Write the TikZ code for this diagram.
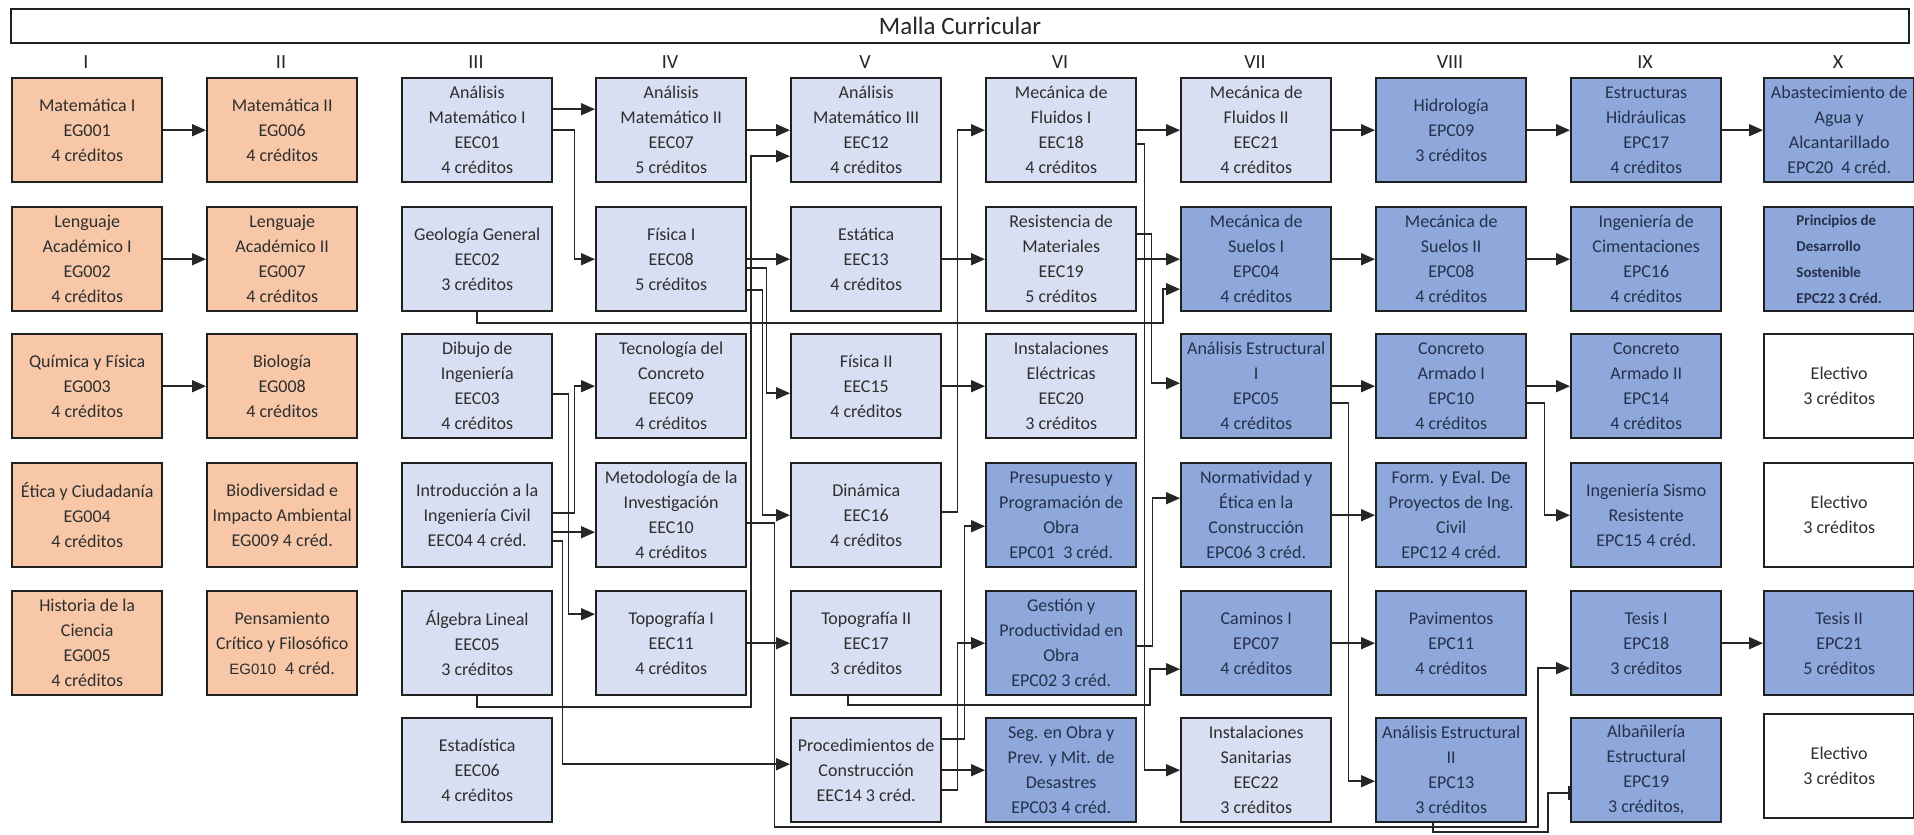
\documentclass[tikz,border=0pt]{standalone}
\usepackage{fontspec}
\setmainfont{Carlito}
\newfontfamily\arialf{Liberation Sans}
\usetikzlibrary{arrows.meta,calc}
\definecolor{orng}{HTML}{F7C7A8}
\definecolor{lblue}{HTML}{D9DFF2}
\definecolor{dblue}{HTML}{8EA8DB}
\definecolor{bordc}{HTML}{202020}
\definecolor{linec}{HTML}{262626}
\definecolor{txtc}{HTML}{2E2E2E}
\definecolor{txtb}{HTML}{25304A}
\begin{document}
\begin{tikzpicture}[x=1pt,y=-1pt,
  box/.style={draw=bordc, line width=2.4pt, minimum width=150pt, minimum height=104pt,
    anchor=north west, align=center, inner sep=0pt, font=\fontsize{18}{25}\selectfont, text=txtc},
  og/.style={box, fill=orng},
  lb/.style={box, fill=lblue},
  db/.style={box, fill=dblue, text=txtb},
  wb/.style={box, fill=white},
  roman/.style={font=\fontsize{20}{24}\selectfont, text=black!85},
  arr/.style={draw=linec, line width=1.7pt, -{Triangle[length=14pt,width=12pt]}},
  bararr/.style={draw=linec, line width=1.7pt, -{Bar[width=14pt]}},
]
\useasboundingbox (0,0) rectangle (1914,835);
\fill[white] (0,0) rectangle (1914,835);

% title
\node[draw=bordc, line width=2pt, minimum width=1898pt, minimum height=34pt, inner sep=0pt,
  font=\fontsize{25}{28}\selectfont, text=black!85] (title) at (960,26) {Malla Curricular};

% roman numerals
\node[roman] (n1) at (86,62) {I};
\node[roman] (n2) at (281,62) {II};
\node[roman] (n3) at (476,62) {III};
\node[roman] (n4) at (670,62) {IV};
\node[roman] (n5) at (865,62) {V};
\node[roman] (n6) at (1060,62) {VI};
\node[roman] (n7) at (1255,62) {VII};
\node[roman] (n8) at (1450,62) {VIII};
\node[roman] (n9) at (1645,62) {IX};
\node[roman] (n10) at (1838,62) {X};

% column I
\node[og] (g1) at (11,77) {Matemática I\\EG001\\4 créditos};
\node[og] (g2) at (11,206) {Lenguaje\\Académico I\\EG002\\4 créditos};
\node[og] (g3) at (11,333) {Química y Física\\EG003\\4 créditos};
\node[og] (g4) at (11,462) {Ética y Ciudadanía\\EG004\\4 créditos};
\node[og] (g5) at (11,590) {Historia de la\\Ciencia\\EG005\\4 créditos};
% column II
\node[og] (g6) at (206,77) {Matemática II\\EG006\\4 créditos};
\node[og] (g7) at (206,206) {Lenguaje\\Académico II\\EG007\\4 créditos};
\node[og] (g8) at (206,333) {Biología\\EG008\\4 créditos};
\node[og] (g9) at (206,462) {Biodiversidad e\\Impacto Ambiental\\EG009 4 créd.};
\node[og] (g10) at (206,590) {Pensamiento\\Crítico y Filosófico\\{\arialf\fontsize{15}{25}\selectfont EG010}\hspace{9pt}4 créd.};
% column III
\node[lb] (e01) at (401,77) {Análisis\\Matemático I\\EEC01\\4 créditos};
\node[lb] (e02) at (401,206) {Geología General\\EEC02\\3 créditos};
\node[lb] (e03) at (401,333) {Dibujo de\\Ingeniería\\EEC03\\4 créditos};
\node[lb] (e04) at (401,462) {Introducción a la\\Ingeniería Civil\\EEC04 4 créd.};
\node[lb] (e05) at (401,590) {Álgebra Lineal\\EEC05\\3 créditos};
\node[lb] (e06) at (401,717) {Estadística\\EEC06\\4 créditos};
% column IV
\node[lb] (e07) at (595,77) {Análisis\\Matemático II\\EEC07\\5 créditos};
\node[lb] (e08) at (595,206) {Física I\\EEC08\\5 créditos};
\node[lb] (e09) at (595,333) {Tecnología del\\Concreto\\EEC09\\4 créditos};
\node[lb] (e10) at (595,462) {Metodología de la\\Investigación\\EEC10\\4 créditos};
\node[lb] (e11) at (595,590) {Topografía I\\EEC11\\4 créditos};
% column V
\node[lb] (e12) at (790,77) {Análisis\\Matemático III\\EEC12\\4 créditos};
\node[lb] (e13) at (790,206) {Estática\\EEC13\\4 créditos};
\node[lb] (e15) at (790,333) {Física II\\EEC15\\4 créditos};
\node[lb] (e16) at (790,462) {Dinámica\\EEC16\\4 créditos};
\node[lb] (e17) at (790,590) {Topografía II\\EEC17\\3 créditos};
\node[lb] (e14) at (790,717) {Procedimientos de\\Construcción\\EEC14 3 créd.};
% column VI
\node[lb] (e18) at (985,77) {Mecánica de\\Fluidos I\\EEC18\\4 créditos};
\node[lb] (e19) at (985,206) {Resistencia de\\Materiales\\EEC19\\5 créditos};
\node[lb] (e20) at (985,333) {Instalaciones\\Eléctricas\\EEC20\\3 créditos};
\node[db] (p01) at (985,462) {Presupuesto y\\Programación de\\Obra\\EPC01\hspace{8pt}3 créd.};
\node[db] (p02) at (985,590) {Gestión y\\Productividad en\\Obra\\EPC02 3 créd.};
\node[db] (p03) at (985,717) {Seg. en Obra y\\Prev. y Mit. de\\Desastres\\EPC03 4 créd.};
% column VII
\node[lb] (e21) at (1180,77) {Mecánica de\\Fluidos II\\EEC21\\4 créditos};
\node[db] (p04) at (1180,206) {Mecánica de\\Suelos I\\EPC04\\4 créditos};
\node[db] (p05) at (1180,333) {Análisis Estructural\\I\\EPC05\\4 créditos};
\node[db] (p06) at (1180,462) {Normatividad y\\Ética en la\\Construcción\\EPC06 3 créd.};
\node[db] (p07) at (1180,590) {Caminos I\\EPC07\\4 créditos};
\node[lb] (e22) at (1180,717) {Instalaciones\\Sanitarias\\EEC22\\3 créditos};
% column VIII
\node[db] (p09) at (1375,77) {Hidrología\\EPC09\\3 créditos};
\node[db] (p08) at (1375,206) {Mecánica de\\Suelos II\\EPC08\\4 créditos};
\node[db] (p10) at (1375,333) {Concreto\\Armado I\\EPC10\\4 créditos};
\node[db] (p12) at (1375,462) {Form. y Eval. De\\Proyectos de Ing.\\Civil\\EPC12 4 créd.};
\node[db] (p11) at (1375,590) {Pavimentos\\EPC11\\4 créditos};
\node[db] (p13) at (1375,717) {Análisis Estructural\\II\\EPC13\\3 créditos};
% column IX
\node[db] (p17) at (1570,77) {Estructuras\\Hidráulicas\\EPC17\\4 créditos};
\node[db] (p16) at (1570,206) {Ingeniería de\\Cimentaciones\\EPC16\\4 créditos};
\node[db] (p14) at (1570,333) {Concreto\\Armado II\\EPC14\\4 créditos};
\node[db] (p15) at (1570,462) {Ingeniería Sismo\\Resistente\\EPC15 4 créd.};
\node[db] (p18) at (1570,590) {Tesis I\\EPC18\\3 créditos};
\node[db] (p19) at (1570,717) {Albañilería\\Estructural\\EPC19\\3 créditos,};
% column X
\node[db] (p20) at (1763,77) {Abastecimiento de\\Agua y\\Alcantarillado\\EPC20\hspace{8pt}4 créd.};
\node[db, align=left, font=\fontsize{15}{26}\selectfont\bfseries] (p22) at (1763,206) {Principios de\\Desarrollo\\Sostenible\\EPC22 3 Créd.};
\node[wb] (el1) at (1763,333) {Electivo\\3 créditos};
\node[wb] (el2) at (1763,462) {Electivo\\3 créditos};
\node[db] (p21) at (1763,590) {Tesis II\\EPC21\\5 créditos};
\node[wb] (el3) at (1763,713) {Electivo\\3 créditos};

% connectors
\draw[arr] (g1.east) -- (g6.west);
\draw[arr] (g2.east) -- (g7.west);
\draw[arr] (g3.east) -- (g8.west);
\draw[arr] ([yshift=21pt]e01.east) -- ([yshift=21pt]e07.west);
\draw[arr] (e01.east) -- ++(21,0) |- (e08.west);
\draw[arr] (e07.east) -- (e12.west);
\draw[arr] (e05.south) |- (751,707) |- ([yshift=-26pt]e12.west);
\draw[arr] (e08.east) -- (e13.west);
\draw[arr] ([yshift=-9pt]e08.east) -- ++(19,0) |- ([yshift=-7pt]e15.west);
\draw[arr] ([yshift=-31pt]e08.east) -- ++(15,0) |- (e16.west);
\draw[arr] (e13.east) -- (e19.west);
\draw[arr] ([yshift=3pt]e16.east) -- ++(15,0) |- (e18.west);
\draw[arr] (e15.east) -- (e20.west);
\draw[arr] (e18.east) -- (e21.west);
\draw[arr] (e21.east) -- (p09.west);
\draw[arr] (p09.east) -- (p17.west);
\draw[arr] (p17.east) -- (p20.west);
\draw[arr] (e19.east) -- (p04.west);
\draw[arr] (p04.east) -- (p08.west);
\draw[arr] (p08.east) -- (p16.west);
\draw[arr] (e02.south) |- (1163,323) |- ([yshift=-30pt]p04.west);
\draw[arr] ([yshift=-14pt]e18.east) -- ++(7,0) |- (e22.west);
\draw[arr] ([yshift=25pt]e19.east) -- ++(14,0) |- ([yshift=3pt]p05.west);
\draw[arr] (p05.east) -- (p10.west);
\draw[arr] ([yshift=-17pt]p05.east) -- ++(16,0) |- ([yshift=-11pt]p13.west);
\draw[arr] (p06.east) -- (p12.west);
\draw[arr] (p10.east) -- (p14.west);
\draw[arr] ([yshift=-17pt]p10.east) -- ++(17,0) |- (p15.west);
\draw[arr] ([yshift=31pt]e14.east) -- ++(22,0) |- ([yshift=-11pt]p01.west);
\draw[arr] ([yshift=-20pt]e14.east) -- ++(15,0) |- (p02.west);
\draw[arr] (e14.east) -- (p03.west);
\draw[arr] ([yshift=-3pt]p02.east) -- ++(15,0) |- ([yshift=17pt]p06.west);
\draw[arr] ([xshift=-18pt]e17.south) |- (1150,705) |- ([yshift=-26pt]p07.west);
\draw[arr] (e11.east) -- (e17.west);
\draw[arr] ([yshift=-8pt]e03.east) -- ++(15,0) |- ([yshift=29pt]e11.west);
\draw[arr] ([yshift=2pt]e04.east) -- ++(21,0) |- (e09.west);
\draw[arr] ([yshift=-17pt]e04.east) -- ([yshift=-17pt]e10.west);
\draw[arr] ([yshift=-26pt]e04.east) -- ++(9,0) |- ([yshift=6pt]e14.west);
\draw[arr] ([yshift=-8pt]e10.east) -- ++(27,0) |- (1538,827) |- ([yshift=-25pt]p18.west);
\draw[bararr] ([xshift=-18pt]p13.south) |- (1548,832) |- ([yshift=-23pt]p19.west);
\draw[arr] (p18.east) -- (p21.west);
\draw[arr] (p07.east) -- (p11.west);
\end{tikzpicture}
\end{document}
